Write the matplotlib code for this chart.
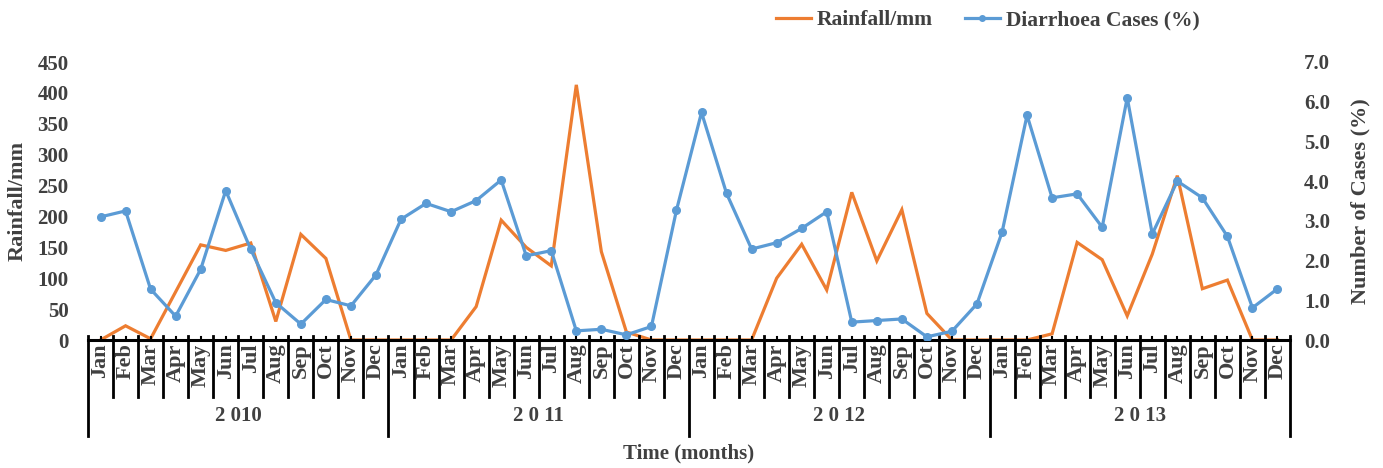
import numpy as np
import matplotlib.pyplot as plt
from matplotlib import transforms
from matplotlib.lines import Line2D

months = ["Jan", "Feb", "Mar", "Apr", "May", "Jun",
          "Jul", "Aug", "Sep", "Oct", "Nov", "Dec"]
years = ["2 010", "2 0 11", "2 0 12", "2 0 13"]

# monthly rainfall (mm), 2010-2013
rainfall = [0, 23, 2, 78, 154, 145, 157, 30, 171, 132, 0, 0,
            0, 0, 0, 54, 194, 150, 120, 413, 143, 13, 0, 0,
            0, 0, 0, 100, 155, 81, 239, 128, 211, 43, 0, 0,
            0, 0, 10, 158, 130, 39, 139, 266, 83, 97, 0, 0]

# diarrhoea cases (%), 2010-2013
cases = [3.10, 3.25, 1.28, 0.60, 1.78, 3.76, 2.28, 0.94, 0.40, 1.02, 0.86, 1.64,
         3.04, 3.44, 3.23, 3.51, 4.03, 2.12, 2.25, 0.23, 0.27, 0.13, 0.34, 3.27,
         5.73, 3.69, 2.29, 2.45, 2.81, 3.23, 0.45, 0.49, 0.53, 0.08, 0.22, 0.91,
         2.71, 5.66, 3.58, 3.68, 2.84, 6.10, 2.67, 4.00, 3.58, 2.61, 0.81, 1.29]

orange = "#ED7D31"
blue = "#5B9BD5"
txt = "#404040"

plt.rcParams['font.family'] = ['Liberation Serif', 'DejaVu Serif']
plt.rcParams['font.weight'] = 'bold'

W, H = 1383, 468
fig = plt.figure(figsize=(W / 100, H / 100), dpi=100)
ax = fig.add_axes([88 / W, 128 / H, 1202 / W, 278 / H])
ax2 = ax.twinx()

n = len(rainfall)
x = np.arange(n)

ax.plot(x, rainfall, color=orange, lw=2.3, solid_joinstyle='miter')
ax2.plot(x, cases, color=blue, lw=2.3, marker='o', ms=5.5)

ax.set_xlim(-0.5, n - 0.5)
ax.set_ylim(0, 450)
ax2.set_ylim(0, 7)
ax.set_yticks(np.arange(0, 451, 50))
ax2.set_yticks(np.arange(0, 7.1, 1))
ax2.set_yticklabels([f"{v:.1f}" for v in np.arange(0, 7.1, 1)])

for a in (ax, ax2):
    for s in ("left", "right", "top", "bottom"):
        a.spines[s].set_visible(False)
ax.tick_params(axis='y', length=0, pad=14, labelsize=15, labelcolor=txt)
ax2.tick_params(axis='y', length=0, pad=10, labelsize=15, labelcolor=txt)
ax.set_xticks([])

# category axis drawn by hand
trans = transforms.blended_transform_factory(ax.transData, ax.transAxes)
ax.plot([-0.5, n - 0.5], [0, 0], color="black", lw=2.2, transform=trans, clip_on=False)
for k in range(n + 1):
    bottom = -0.345 if k % 12 == 0 else -0.205
    ax.plot([k - 0.5, k - 0.5], [0.014, bottom], color="black", lw=2.0,
            transform=trans, clip_on=False)
for i in range(n):
    ax.plot([i, i], [0, 0.012], color="black", lw=1.5, transform=trans, clip_on=False)
    ax.text(i, -0.012, months[i % 12], rotation=90, ha='center', va='top',
            fontsize=16, color=txt, transform=trans)
for j, yr in enumerate(years):
    ax.text(12 * j + 5.5, -0.275, yr, ha='center', va='center',
            fontsize=15, color=txt, transform=trans)
ax.text((n - 1) / 2, -0.407, "Time (months)", ha='center', va='center',
        fontsize=15, color=txt, transform=trans)

fig.text(18 / W, 1 - 201 / H, "Rainfall/mm", rotation=90, ha='center', va='center',
         fontsize=16, color=txt)
fig.text(1360 / W, 1 - 201 / H, "Number of Cases (%)", rotation=90, ha='center',
         va='center', fontsize=16, color=txt)

handles = [Line2D([], [], color=orange, lw=2.3),
           Line2D([], [], color=blue, lw=2.3, marker='o', ms=4)]
fig.legend(handles, ["Rainfall/mm", "Diarrhoea Cases (%)"], loc='center',
           bbox_to_anchor=(988 / W, 1 - 20 / H), ncol=2, frameon=False,
           fontsize=15.5, handlelength=1.6, handletextpad=0.3, columnspacing=1.5,
           labelcolor=txt)

fig.savefig("out.png", dpi=100)
